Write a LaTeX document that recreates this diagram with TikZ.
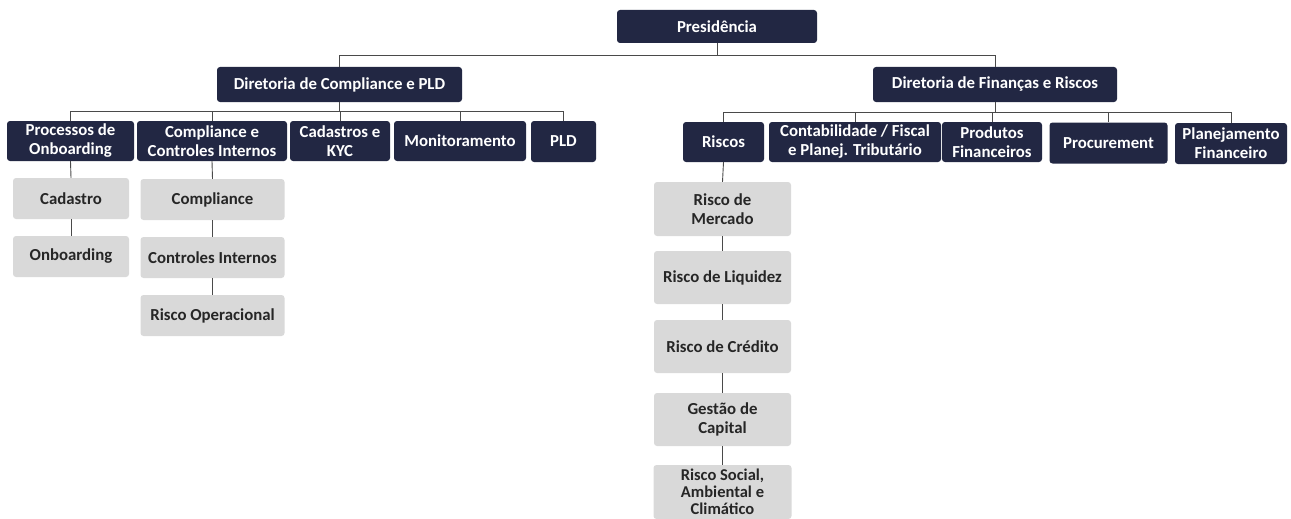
\documentclass[tikz,border=0pt]{standalone}
\usepackage{fontspec}
\setmainfont{Carlito}
\definecolor{navy}{HTML}{222743}
\definecolor{lgray}{HTML}{D9D9D9}
\definecolor{ltxt}{HTML}{262626}
\definecolor{conn}{HTML}{4A4A4A}
\begin{document}
\begin{tikzpicture}[x=1pt,y=-1pt,
  navybox/.style={draw=none,fill=navy,rounded corners=3pt,inner sep=0pt,align=center,
    text=white,font=\fontsize{16.8}{19}\selectfont\bfseries},
  graybox/.style={draw=none,fill=lgray,rounded corners=3pt,inner sep=0pt,align=center,
    text=ltxt,font=\fontsize{16.8}{18.5}\selectfont\bfseries,minimum width=116pt,minimum height=41pt},
  link/.style={draw=conn,line width=0.9pt}]
\useasboundingbox (0,0) rectangle (1291,519);
% level 0
\node[navybox,minimum width=200pt,minimum height=33pt] (pres) at (717,26.5) {Presidência};
% level 1
\node[navybox,minimum width=245pt,minimum height=35pt] (dc) at (339.5,84.5) {Diretoria de Compliance e PLD};
\node[navybox,minimum width=244pt,minimum height=35pt] (df) at (995,84.5) {Diretoria de Finanças e Riscos};
% level 2 compliance
\node[navybox,minimum width=127pt,minimum height=40pt] (pon) at (70.5,141) {Processos de\\Onboarding};
\node[navybox,minimum width=150pt,minimum height=40pt] (cci) at (212,141) {Compliance e\\Controles Internos};
\node[navybox,minimum width=100pt,minimum height=40pt] (kyc) at (340,141) {Cadastros e\\KYC};
\node[navybox,minimum width=132pt,minimum height=40pt] (mon) at (460,141) {Monitoramento};
\node[navybox,minimum width=65pt,minimum height=41pt] (pld) at (563.5,141.5) {PLD};
% level 2 financas
\node[navybox,minimum width=81pt,minimum height=40pt] (ris) at (723.5,142) {Riscos};
\node[navybox,minimum width=172pt,minimum height=40pt] (con) at (855,142) {Contabilidade / Fiscal\\e Planej. Tributário};
\node[navybox,minimum width=100pt,minimum height=40pt] (pro) at (992,142) {Produtos\\Financeiros};
\node[navybox,minimum width=118pt,minimum height=41pt] (prc) at (1108.5,143) {Procurement};
\node[navybox,minimum width=112pt,minimum height=41pt] (pla) at (1231,143.5) {Planejamento\\Financeiro};
% gray left
\node[graybox] (cad) at (71,198.5) {Cadastro};
\node[graybox] (onb) at (71,256.5) {Onboarding};
\node[graybox,minimum width=144pt] (com) at (212.5,199.5) {Compliance};
\node[graybox,minimum width=144pt] (cti) at (212.5,257.5) {Controles Internos};
\node[graybox,minimum width=144pt] (rop) at (212.5,315.5) {Risco Operacional};
% gray right
\node[graybox,minimum width=137pt,minimum height=54pt] (rm) at (722.5,209) {Risco de\\Mercado};
\node[graybox,minimum width=137pt,minimum height=53pt] (rl) at (722.5,277.5) {Risco de Liquidez};
\node[graybox,minimum width=137pt,minimum height=53pt] (rc) at (722.5,346.5) {Risco de Crédito};
\node[graybox,minimum width=137pt,minimum height=53pt] (gc) at (722.5,419.5) {Gestão de\\Capital};
\node[graybox,minimum width=138pt,minimum height=54pt,font=\fontsize{16.5}{17}\selectfont\bfseries] (rs) at (722.5,492) {Risco Social,\\Ambiental e\\Climático};
% connectors level 0 -> 1
\coordinate (b0) at (0,55);
\draw[link] (pres.south) -- (pres.south |- b0);
\draw[link] (dc.north) -- (dc.north |- b0) -- (df.north |- b0) -- (df.north);
% compliance bus
\coordinate (b1) at (0,111);
\draw[link] (dc.south) -- (dc.south |- b1);
\draw[link] (pon.north) -- (pon.north |- b1) -- (pld.north |- b1) -- (pld.north);
\draw[link] (cci.north) -- (cci.north |- b1);
\draw[link] (kyc.north) -- (kyc.north |- b1);
\draw[link] (mon.north) -- (mon.north |- b1);
% financas bus
\coordinate (b2) at (0,112.5);
\draw[link] (df.south) -- (df.south |- b2);
\draw[link] (ris.north) -- (ris.north |- b2) -- (pla.north |- b2) -- (pla.north);
\draw[link] (con.north) -- (con.north |- b2);
\draw[link] (pro.north) -- (pro.north |- b2);
\draw[link] (prc.north) -- (prc.north |- b2);
% vertical chains
\draw[link] (pon.south) -- (cad.north);
\draw[link] (cad.south) -- (onb.north);
\draw[link] (cci.south) -- (com.north);
\draw[link] (com.south) -- (cti.north);
\draw[link] (cti.south) -- (rop.north);
\draw[link] (ris.south) -- (rm.north);
\draw[link] (rm.south) -- (rl.north);
\draw[link] (rl.south) -- (rc.north);
\draw[link] (rc.south) -- (gc.north);
\draw[link] (gc.south) -- (rs.north);
\end{tikzpicture}
\end{document}
